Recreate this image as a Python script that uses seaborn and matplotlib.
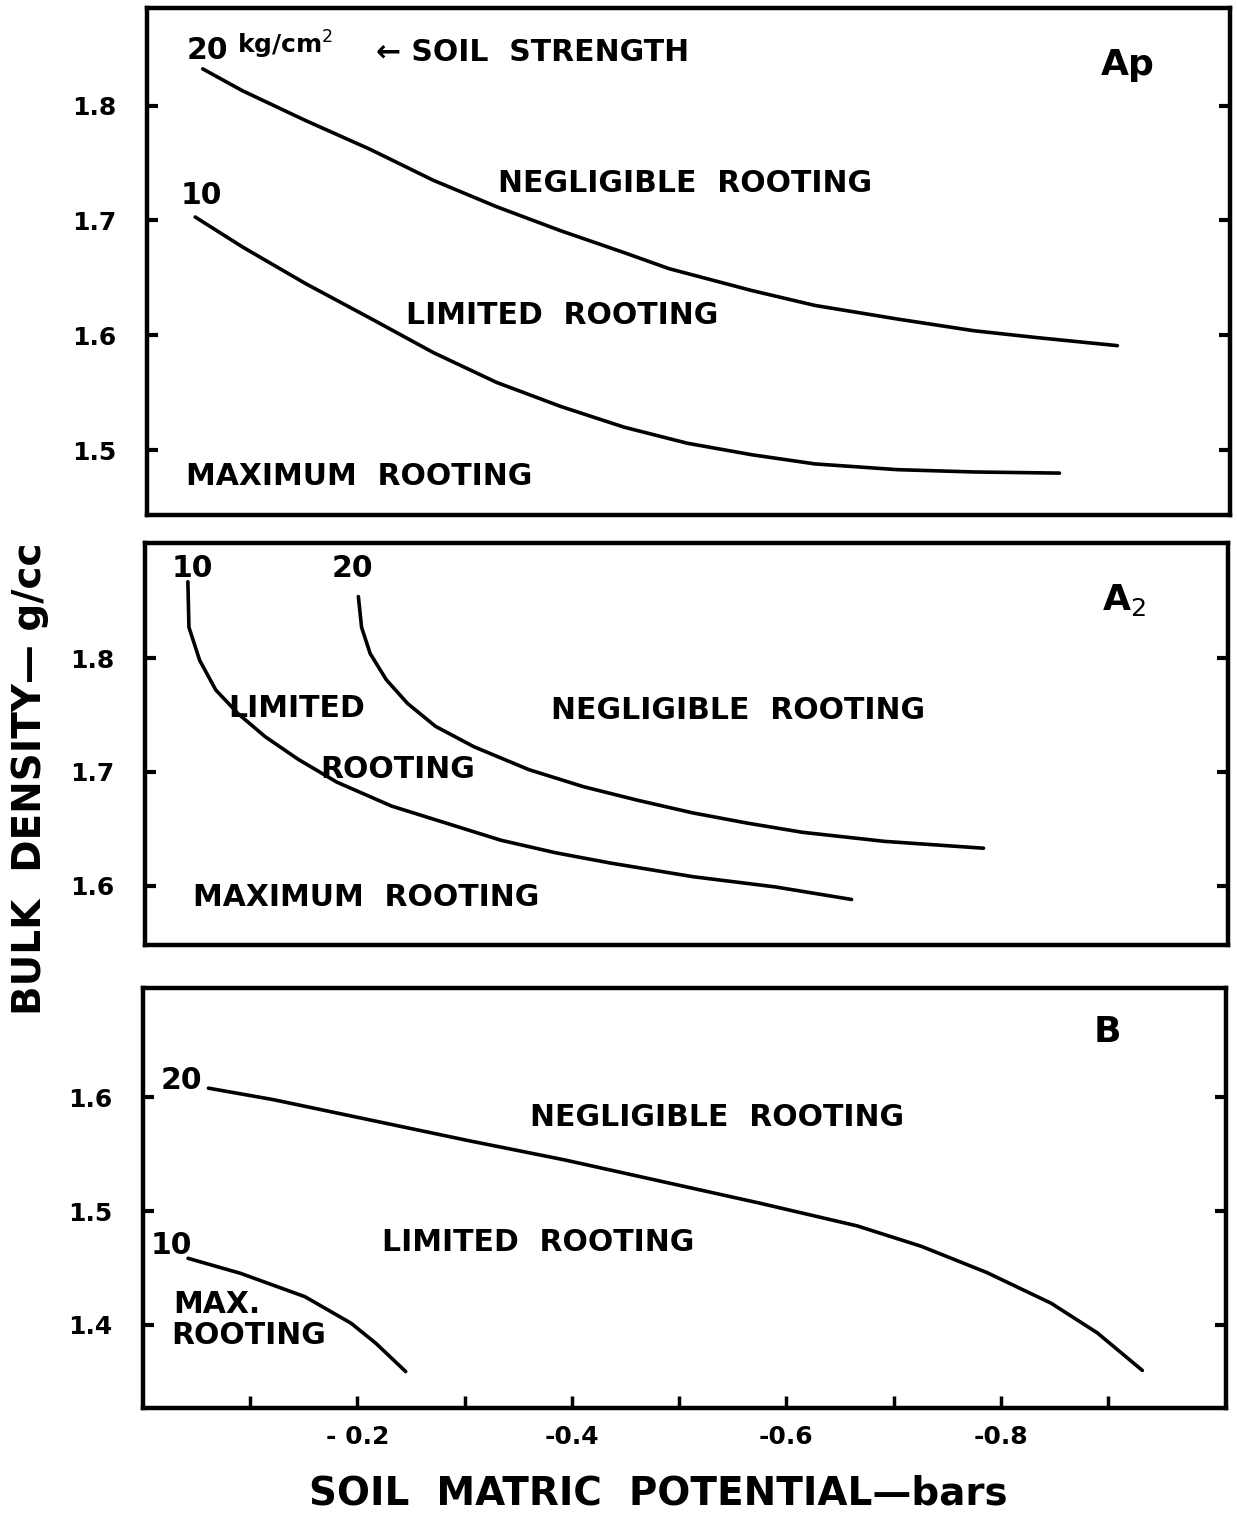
import numpy as np
import pandas as pd
import seaborn as sns
import matplotlib.pyplot as plt

sns.set_theme(style="white")
plt.rcParams['font.family'] = ['DejaVu Sans']
plt.rcParams['text.color'] = 'black'
plt.rcParams['xtick.color'] = 'black'
plt.rcParams['ytick.color'] = 'black'

# soil matric potential (bars) and bulk density (g/cc)
ap_20_x = [-0.052, -0.089, -0.148, -0.208, -0.267, -0.326, -0.386, -0.445, -0.487,
           -0.564, -0.623, -0.701, -0.771, -0.830, -0.905]
ap_20_y = [1.832, 1.813, 1.787, 1.762, 1.735, 1.712, 1.691, 1.672, 1.658,
           1.639, 1.626, 1.614, 1.604, 1.598, 1.591]
ap_10_x = [-0.045, -0.089, -0.148, -0.208, -0.267, -0.326, -0.386, -0.445, -0.504,
           -0.564, -0.623, -0.700, -0.771, -0.851]
ap_10_y = [1.703, 1.677, 1.645, 1.615, 1.585, 1.559, 1.538, 1.520, 1.506,
           1.496, 1.488, 1.483, 1.481, 1.480]

a2_10_x = [-0.040, -0.041, -0.051, -0.066, -0.087, -0.112, -0.143, -0.179, -0.230,
           -0.281, -0.332, -0.383, -0.434, -0.511, -0.588, -0.659]
a2_10_y = [1.867, 1.827, 1.798, 1.772, 1.751, 1.731, 1.711, 1.691, 1.670,
           1.655, 1.640, 1.629, 1.620, 1.608, 1.599, 1.588]
a2_20_x = [-0.199, -0.202, -0.210, -0.225, -0.245, -0.271, -0.307, -0.358, -0.409,
           -0.460, -0.511, -0.562, -0.613, -0.690, -0.782]
a2_20_y = [1.854, 1.827, 1.804, 1.781, 1.760, 1.740, 1.722, 1.702, 1.687,
           1.675, 1.664, 1.655, 1.647, 1.639, 1.633]

b_20_x = [-0.061, -0.121, -0.212, -0.303, -0.393, -0.484, -0.575, -0.666, -0.726,
          -0.787, -0.847, -0.890, -0.932]
b_20_y = [1.608, 1.598, 1.580, 1.562, 1.545, 1.526, 1.507, 1.487, 1.469,
          1.446, 1.419, 1.393, 1.360]
b_10_x = [-0.042, -0.091, -0.151, -0.194, -0.217, -0.245]
b_10_y = [1.4585, 1.4453, 1.4248, 1.4015, 1.384, 1.359]

x_ticks = [-0.1, -0.2, -0.3, -0.4, -0.5, -0.6, -0.7, -0.8, -0.9]
x_tick_labels = ['', '- 0.2', '', '-0.4', '', '-0.6', '', '-0.8', '']


def frame(pairs):
    rows = []
    for name, xs, ys in pairs:
        for x, y in zip(xs, ys):
            rows.append({'strength': name, 'potential': x, 'density': y})
    return pd.DataFrame(rows)


fig = plt.figure(figsize=(12.37, 15.13), dpi=100)
ax1 = fig.add_axes([0.1188, 0.6596, 0.8755, 0.3351])
ax2 = fig.add_axes([0.1172, 0.3754, 0.8755, 0.2657])
ax3 = fig.add_axes([0.1156, 0.0694, 0.8755, 0.2776])

panels = [
    (ax1, frame([('20', ap_20_x, ap_20_y), ('10', ap_10_x, ap_10_y)]), (1.4435, 1.885), [1.5, 1.6, 1.7, 1.8]),
    (ax2, frame([('10', a2_10_x, a2_10_y), ('20', a2_20_x, a2_20_y)]), (1.548, 1.901), [1.6, 1.7, 1.8]),
    (ax3, frame([('20', b_20_x, b_20_y), ('10', b_10_x, b_10_y)]), (1.327, 1.696), [1.4, 1.5, 1.6]),
]

for ax, df, ylim, yt in panels:
    sns.lineplot(data=df, x='potential', y='density', units='strength', estimator=None,
                 sort=False, color='black', lw=2.6, ax=ax, legend=False)
    for ln in ax.get_lines():
        ln.set_solid_joinstyle('round')
        ln.set_solid_capstyle('round')
    ax.set_xlim(0, -1.01)
    ax.set_ylim(*ylim)
    ax.set_yticks(yt)
    ax.set_yticklabels([f'{v:.1f}' for v in yt], fontsize=18, fontweight='bold')
    ax.set_xlabel('')
    ax.set_ylabel('')
    for s in ax.spines.values():
        s.set_visible(True)
        s.set_linewidth(3.2)
        s.set_color('black')
    ax.tick_params(axis='y', which='both', direction='in', left=True, right=True,
                   length=8, width=3, color='black', pad=22)
    if ax is ax3:
        ax.set_xticks(x_ticks)
        ax.set_xticklabels(x_tick_labels, fontsize=18, fontweight='bold')
        ax.tick_params(axis='x', direction='in', bottom=True, length=9, width=2.5,
                       color='black', pad=12)
    else:
        ax.set_xticks([])

tk = dict(fontsize=21.5, fontweight='bold', color='black', va='center')
big = dict(fontsize=26, fontweight='bold', color='black', va='center', ha='center')

# Ap panel
ax1.text(-0.037, 1.848, '20', ha='left', **tk)
ax1.text(-0.084, 1.853, 'kg/cm$^2$', ha='left', fontsize=18, fontweight='bold', va='center')
ax1.text(-0.214, 1.846, '\u2190 SOIL  STRENGTH', ha='left', **tk)
ax1.text(-0.915, 1.835, 'Ap', **big)
ax1.text(-0.031, 1.722, '10', ha='left', **tk)
ax1.text(-0.502, 1.732, 'NEGLIGIBLE  ROOTING', ha='center', **tk)
ax1.text(-0.387, 1.617, 'LIMITED  ROOTING', ha='center', **tk)
ax1.text(-0.198, 1.477, 'MAXIMUM  ROOTING', ha='center', **tk)

# A2 panel
ax2.text(-0.044, 1.879, '10', ha='center', **tk)
ax2.text(-0.193, 1.879, '20', ha='center', **tk)
ax2.text(-0.913, 1.851, 'A$_2$', **big)
ax2.text(-0.141, 1.756, 'LIMITED', ha='center', **tk)
ax2.text(-0.236, 1.702, 'ROOTING', ha='center', **tk)
ax2.text(-0.553, 1.754, 'NEGLIGIBLE  ROOTING', ha='center', **tk)
ax2.text(-0.206, 1.590, 'MAXIMUM  ROOTING', ha='center', **tk)

# B panel
ax3.text(-0.899, 1.657, 'B', **big)
ax3.text(-0.036, 1.615, '20', ha='center', **tk)
ax3.text(-0.535, 1.582, 'NEGLIGIBLE  ROOTING', ha='center', **tk)
ax3.text(-0.369, 1.472, 'LIMITED  ROOTING', ha='center', **tk)
ax3.text(-0.026, 1.470, '10', ha='center', **tk)
ax3.text(-0.028, 1.418, 'MAX.', ha='left', **tk)
ax3.text(-0.026, 1.391, 'ROOTING', ha='left', **tk)

fig.text(0.532, 0.013, 'SOIL  MATRIC  POTENTIAL\u2014bars', ha='center', va='center',
         fontsize=28, fontweight='bold')
fig.text(0.024, 0.485, 'BULK  DENSITY\u2014 g/cc', ha='center', va='center', rotation=90,
         fontsize=28, fontweight='bold')

fig.savefig('out.png', dpi=100, facecolor='white')
